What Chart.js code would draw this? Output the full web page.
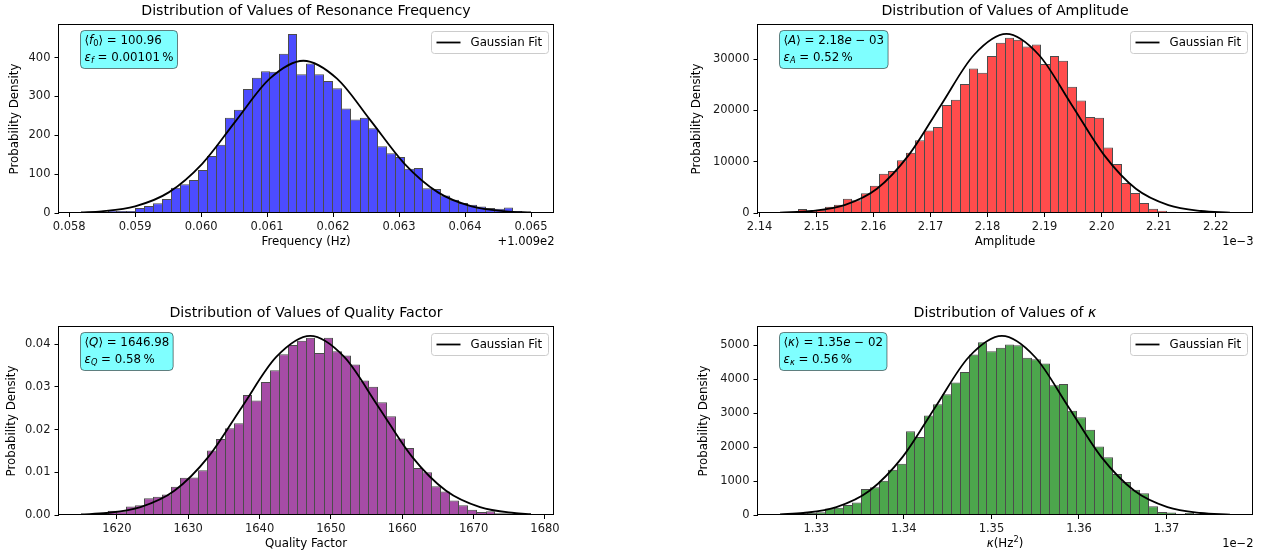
<!DOCTYPE html>
<html>
<head>
<meta charset="utf-8">
<script src="https://cdn.jsdelivr.net/npm/chart.js@4.4.1/dist/chart.umd.min.js"></script>
<style>
  html, body { margin: 0; padding: 0; background: #fff; }
  #wrap { position: relative; width: 1261px; height: 559px; overflow: hidden; }
  #wrap canvas { position: absolute; left: 0; top: 0; }
</style>
</head>
<body>
<div id="wrap">
  <canvas id="c1" width="1261" height="559"></canvas>
  <canvas id="c2" width="1261" height="559"></canvas>
  <canvas id="c3" width="1261" height="559"></canvas>
  <canvas id="c4" width="1261" height="559"></canvas>
</div>
<script>
const FONT = 'DejaVu Sans';
const W = 1261, H = 559;
const YW = 50;  // largura fixa do eixo y
const XH = 40;  // altura fixa do eixo x

// --- Frequência de ressonância (offset +1.009e2) ---
const freqRange = [0.05818, 0.06500];
const freqHeights = [2, 2, 3, 6, 5, 5, 13, 18, 25, 36, 65, 74, 85, 111, 147, 176, 245, 266, 319, 348,
  365, 364, 410, 461, 357, 385, 357, 340, 321, 269, 241, 245, 218, 172, 154, 144, 114, 116, 64, 62,
  45, 34, 26, 21, 17, 13, 11, 14, 5, 3];
const freqFitX = [0.05818, 0.05849, 0.05900, 0.05951, 0.06002, 0.06053, 0.06104, 0.06155, 0.06206,
  0.06257, 0.06308, 0.06359, 0.06410, 0.06461, 0.06500];
const freqFitY = [1.7, 4.4, 17.2, 53.1, 127.3, 237.8, 345.9, 392, 345.9, 237.8, 127.3, 53.1, 17.2, 4.4, 1.3];
const freqTicksX = [0.058, 0.059, 0.060, 0.061, 0.062, 0.063, 0.064, 0.065];
const freqLabelsX = ['0.058', '0.059', '0.060', '0.061', '0.062', '0.063', '0.064', '0.065'];
const freqTicksY = [0, 100, 200, 300, 400];
const freqLabelsY = ['0', '100', '200', '300', '400'];

// --- Amplitude (x em 1e-3) ---
const ampRange = [2.1436, 2.2225];
const ampHeights = [130, 200, 780, 520, 650, 1230, 1620, 2800, 2470, 3830, 5320, 7660, 8180, 10260,
  11750, 14160, 16100, 16750, 21040, 22080, 25130, 28180, 27340, 30580, 33180, 34160, 33770, 32470,
  32860, 29030, 30580, 29680, 24610, 21950, 18700, 18570, 12790, 9550, 5840, 3900, 1950, 840, 450,
  260, 130, 60, 40, 20, 10, 20];
const ampFitX = [2.1436, 2.1492, 2.1549, 2.1606, 2.1662, 2.1719, 2.1776, 2.1833, 2.1890, 2.1947,
  2.2004, 2.2060, 2.2117, 2.2174, 2.2225];
const ampFitY = [79, 388, 1534, 4723, 11330, 21168, 30799, 34900, 30799, 21168, 11330, 4723, 1534, 388, 91];
const ampTicksX = [2.14, 2.15, 2.16, 2.17, 2.18, 2.19, 2.20, 2.21, 2.22];
const ampLabelsX = ['2.14', '2.15', '2.16', '2.17', '2.18', '2.19', '2.20', '2.21', '2.22'];
const ampTicksY = [0, 10000, 20000, 30000];
const ampLabelsY = ['0', '10000', '20000', '30000'];

// --- Fator de qualidade ---
const qRange = [1614.97, 1678.04];
const qHeights = [0.00016, 0.0002, 0.0004, 0.001, 0.0009, 0.002, 0.0023, 0.0039, 0.0043, 0.0048,
  0.0066, 0.0087, 0.0088, 0.0105, 0.0151, 0.0178, 0.0203, 0.0215, 0.0281, 0.0268, 0.0311, 0.0339,
  0.0376, 0.0398, 0.0408, 0.0415, 0.0379, 0.0415, 0.0383, 0.0373, 0.0352, 0.0315, 0.0300, 0.0264,
  0.0231, 0.0179, 0.0157, 0.0110, 0.0100, 0.0067, 0.0055, 0.0034, 0.0023, 0.0012, 0.0007, 0.0009,
  0.0004, 0.0004, 0.0002, 0.0002];
const qFitX = [1614.97, 1618.54, 1623.3, 1628.06, 1632.82, 1637.58, 1642.34, 1647.1, 1651.86,
  1656.62, 1661.38, 1666.14, 1670.9, 1675.66, 1678.04];
const qFitY = [0.00014, 0.00047, 0.00184, 0.00567, 0.0136, 0.02541, 0.03698, 0.0419, 0.03698,
  0.02541, 0.0136, 0.00567, 0.00184, 0.00047, 0.00021];
const qTicksX = [1620, 1630, 1640, 1650, 1660, 1670, 1680];
const qLabelsX = ['1620', '1630', '1640', '1650', '1660', '1670', '1680'];
const qTicksY = [0, 0.01, 0.02, 0.03, 0.04];
const qLabelsY = ['0.00', '0.01', '0.02', '0.03', '0.04'];

// --- kappa (x em 1e-2) ---
const kRange = [1.32585, 1.37725];
const kHeights = [20, 20, 50, 60, 80, 195, 215, 295, 370, 765, 815, 1010, 1335, 1510, 2470, 2300,
  2930, 3265, 3560, 3900, 4215, 4725, 5090, 4825, 4930, 5020, 5000, 4630, 4590, 4460, 3825, 3860,
  3070, 2880, 2510, 2020, 1705, 1205, 970, 745, 640, 255, 90, 70, 40, 60, 30, 20, 10, 10];
const kFitX = [1.32585, 1.32851, 1.33229, 1.33607, 1.33986, 1.34364, 1.34742, 1.3512, 1.35498,
  1.35876, 1.36254, 1.36633, 1.37011, 1.37389, 1.37725];
const kFitY = [19, 59, 232, 714, 1713, 3199, 4655, 5275, 4655, 3199, 1713, 714, 232, 59, 14];
const kTicksX = [1.33, 1.34, 1.35, 1.36, 1.37];
const kLabelsX = ['1.33', '1.34', '1.35', '1.36', '1.37'];
const kTicksY = [0, 1000, 2000, 3000, 4000, 5000];
const kLabelsY = ['0', '1000', '2000', '3000', '4000', '5000'];

// texto com partes em itálico / subscrito / sobrescrito
function richWidth(ctx, segs, size) {
  let w = 0;
  for (const s of segs) {
    const fs = (s.sub || s.sup) ? size * 0.7 : size;
    ctx.font = (s.it ? 'italic ' : '') + fs + 'px "' + FONT + '"';
    w += ctx.measureText(s.t).width;
  }
  return w;
}
function drawRich(ctx, segs, x, y, size) {
  ctx.textAlign = 'left';
  ctx.textBaseline = 'middle';
  for (const s of segs) {
    const fs = (s.sub || s.sup) ? size * 0.7 : size;
    ctx.font = (s.it ? 'italic ' : '') + fs + 'px "' + FONT + '"';
    const dy = s.sub ? size * 0.28 : (s.sup ? -size * 0.35 : 0);
    ctx.fillText(s.t, x, y + dy);
    x += ctx.measureText(s.t).width;
  }
}
function drawRichCentered(ctx, segs, cx, y, size) {
  drawRich(ctx, segs, cx - richWidth(ctx, segs, size) / 2, y, size);
}

const decor = {
  id: 'decor',
  afterDraw(chart, args, o) {
    const ctx = chart.ctx, a = chart.chartArea;
    const cx = (a.left + a.right) / 2;
    ctx.save();
    ctx.fillStyle = '#000';
    // spines (alinhadas ao pixel)
    ctx.strokeStyle = '#000';
    ctx.lineWidth = 1;
    const sl = Math.floor(a.left) + 0.5, sr = Math.floor(a.right) + 0.5;
    ctx.strokeRect(sl, a.top - 0.5, sr - sl, a.bottom - a.top);
    // título e rótulos
    drawRichCentered(ctx, o.title, cx, a.top - 13.5, 14.2);
    drawRichCentered(ctx, o.xLabel, cx, a.bottom + 28.7, 11.8);
    if (o.offset) {
      ctx.font = '11.5px "' + FONT + '"';
      ctx.textAlign = 'right';
      ctx.textBaseline = 'middle';
      ctx.fillText(o.offset, a.right + 1, a.bottom + 28.7);
    }
    ctx.save();
    ctx.translate(o.yLabelX, (a.top + a.bottom) / 2);
    ctx.rotate(-Math.PI / 2);
    drawRichCentered(ctx, [{ t: 'Probability Density' }], 0, 0, 11.8);
    ctx.restore();
    // caixa de texto ciano
    const bw = Math.max(...o.box.map(l => richWidth(ctx, l, 11.8))) + 8;
    const bx = Math.round(a.left + 21) + 0.5, by = a.top + 5.5;
    ctx.beginPath();
    ctx.roundRect(bx, by, bw, 38, 4);
    ctx.fillStyle = 'rgba(0,255,255,0.5)';
    ctx.fill();
    ctx.strokeStyle = 'rgba(0,0,0,0.5)';
    ctx.stroke();
    ctx.fillStyle = '#000';
    drawRich(ctx, o.box[0], bx + 4, by + 10.5, 11.8);
    drawRich(ctx, o.box[1], bx + 4, by + 27, 11.8);
    // legenda
    const lw = 117, lh = 22;
    const lx = Math.round(a.right - 6 - lw) + 0.5, ly = a.top + 6.5;
    ctx.beginPath();
    ctx.roundRect(lx, ly, lw, lh, 3);
    ctx.fillStyle = 'rgba(255,255,255,0.8)';
    ctx.fill();
    ctx.strokeStyle = '#ccc';
    ctx.stroke();
    ctx.beginPath();
    ctx.moveTo(lx + 5, ly + lh / 2);
    ctx.lineTo(lx + 29, ly + lh / 2);
    ctx.strokeStyle = '#000';
    ctx.lineWidth = 1.8;
    ctx.stroke();
    ctx.fillStyle = '#000';
    drawRich(ctx, [{ t: 'Gaussian Fit' }], lx + 39, ly + lh / 2, 11.8);
    ctx.restore();
  }
};

// uma linha de borda por fronteira entre barras, como no matplotlib
function edgeWidth(c) {
  const d = c.dataset.data, i = c.dataIndex, h = d[i].y;
  const prev = i > 0 ? d[i - 1].y : -1;
  const next = i < d.length - 1 ? d[i + 1].y : -1;
  return { top: 1, bottom: 0, left: h >= prev ? 1 : 0, right: h > next ? 1 : 0 };
}

function axisOpts(ticks, labels, horizontal) {
  return {
    afterBuildTicks: s => { s.ticks = ticks.map(v => ({ value: v })); },
    afterFit: s => {
      if (horizontal) s.height = XH; else s.width = YW;
      s.paddingLeft = 0; s.paddingRight = 0; s.paddingTop = 0; s.paddingBottom = 0;
    },
    grid: { offset: false, drawOnChartArea: false, drawTicks: true, tickLength: 4, color: '#000', lineWidth: 1 },
    border: { display: false },
    ticks: {
      autoSkip: false, maxRotation: 0, minRotation: 0,
      padding: horizontal ? 3 : 4,
      color: '#1a1a1a',
      font: { family: FONT, size: 11.5 },
      callback: (v, i) => labels[i]
    }
  };
}

function makeChart(id, p) {
  const n = p.heights.length;
  const bw = (p.range[1] - p.range[0]) / n;
  const bars = p.heights.map((h, i) => ({ x: p.range[0] + bw * (i + 0.5), y: h }));
  const fit = p.fitX.map((x, i) => ({ x: x, y: p.fitY[i] }));
  const margin = (p.range[1] - p.range[0]) * 0.05;
  const yMax = Math.max(...p.heights, ...p.fitY) * 1.05;
  const A = p.area;
  return new Chart(document.getElementById(id), {
    type: 'bar',
    data: {
      datasets: [
        {
          type: 'line', label: 'Gaussian Fit', data: fit,
          borderColor: '#000', borderWidth: 1.8, pointRadius: 0,
          cubicInterpolationMode: 'monotone', fill: false
        },
        {
          type: 'bar', label: 'hist', data: bars,
          backgroundColor: p.color, borderColor: 'rgba(0,0,0,0.7)',
          borderWidth: edgeWidth, borderSkipped: false,
          barPercentage: 1, categoryPercentage: 1, inflateAmount: 0
        }
      ]
    },
    options: {
      responsive: false, animation: false, devicePixelRatio: 1,
      layout: { padding: { left: A[0] - YW, top: A[1], right: W - A[2], bottom: H - A[3] - XH } },
      plugins: { legend: { display: false }, tooltip: { enabled: false }, decor: p.decor },
      scales: {
        x: Object.assign({ type: 'linear', offset: false, min: p.range[0] - margin, max: p.range[1] + margin },
          axisOpts(p.xTicks, p.xLabels, true)),
        y: Object.assign({ type: 'linear', min: 0, max: yMax },
          axisOpts(p.yTicks, p.yLabels, false))
      }
    },
    plugins: [decor]
  });
}

// área de cada painel: [esquerda, topo, direita, base]; largura 495 = 55 bins de 9 px
makeChart('c1', {
  range: freqRange, heights: freqHeights, fitX: freqFitX, fitY: freqFitY,
  xTicks: freqTicksX, xLabels: freqLabelsX, yTicks: freqTicksY, yLabels: freqLabelsY,
  color: 'rgba(0,0,255,0.7)', area: [58.5, 25, 553.5, 213],
  decor: {
    title: [{ t: 'Distribution of Values of Resonance Frequency' }],
    xLabel: [{ t: 'Frequency (Hz)' }], offset: '+1.009e2', yLabelX: 15,
    box: [
      [{ t: '\u27e8' }, { t: 'f', it: 1 }, { t: '0', sub: 1 }, { t: '\u27e9 = 100.96' }],
      [{ t: '\u03b5', it: 1 }, { t: 'f', it: 1, sub: 1 }, { t: ' = 0.00101\u2009%' }]
    ]
  }
});

makeChart('c2', {
  range: ampRange, heights: ampHeights, fitX: ampFitX, fitY: ampFitY,
  xTicks: ampTicksX, xLabels: ampLabelsX, yTicks: ampTicksY, yLabels: ampLabelsY,
  color: 'rgba(255,0,0,0.7)', area: [757.5, 25, 1252.5, 213],
  decor: {
    title: [{ t: 'Distribution of Values of Amplitude' }],
    xLabel: [{ t: 'Amplitude' }], offset: '1e\u22123', yLabelX: 697,
    box: [
      [{ t: '\u27e8' }, { t: 'A', it: 1 }, { t: '\u27e9 = 2.18' }, { t: 'e', it: 1 }, { t: ' \u2212 03' }],
      [{ t: '\u03b5', it: 1 }, { t: 'A', it: 1, sub: 1 }, { t: ' = 0.52\u2009%' }]
    ]
  }
});

makeChart('c3', {
  range: qRange, heights: qHeights, fitX: qFitX, fitY: qFitY,
  xTicks: qTicksX, xLabels: qLabelsX, yTicks: qTicksY, yLabels: qLabelsY,
  color: 'rgba(128,0,128,0.7)', area: [58.5, 327, 553.5, 515],
  decor: {
    title: [{ t: 'Distribution of Values of Quality Factor' }],
    xLabel: [{ t: 'Quality Factor' }], offset: '', yLabelX: 12,
    box: [
      [{ t: '\u27e8' }, { t: 'Q', it: 1 }, { t: '\u27e9 = 1646.98' }],
      [{ t: '\u03b5', it: 1 }, { t: 'Q', it: 1, sub: 1 }, { t: ' = 0.58\u2009%' }]
    ]
  }
});

makeChart('c4', {
  range: kRange, heights: kHeights, fitX: kFitX, fitY: kFitY,
  xTicks: kTicksX, xLabels: kLabelsX, yTicks: kTicksY, yLabels: kLabelsY,
  color: 'rgba(0,128,0,0.7)', area: [757.5, 327, 1252.5, 515],
  decor: {
    title: [{ t: 'Distribution of Values of ' }, { t: '\u03ba', it: 1 }],
    xLabel: [{ t: '\u03ba', it: 1 }, { t: '(Hz' }, { t: '2', sup: 1 }, { t: ')' }],
    offset: '1e\u22122', yLabelX: 704,
    box: [
      [{ t: '\u27e8' }, { t: '\u03ba', it: 1 }, { t: '\u27e9 = 1.35' }, { t: 'e', it: 1 }, { t: ' \u2212 02' }],
      [{ t: '\u03b5', it: 1 }, { t: '\u03ba', it: 1, sub: 1 }, { t: ' = 0.56\u2009%' }]
    ]
  }
});
</script>
</body>
</html>
